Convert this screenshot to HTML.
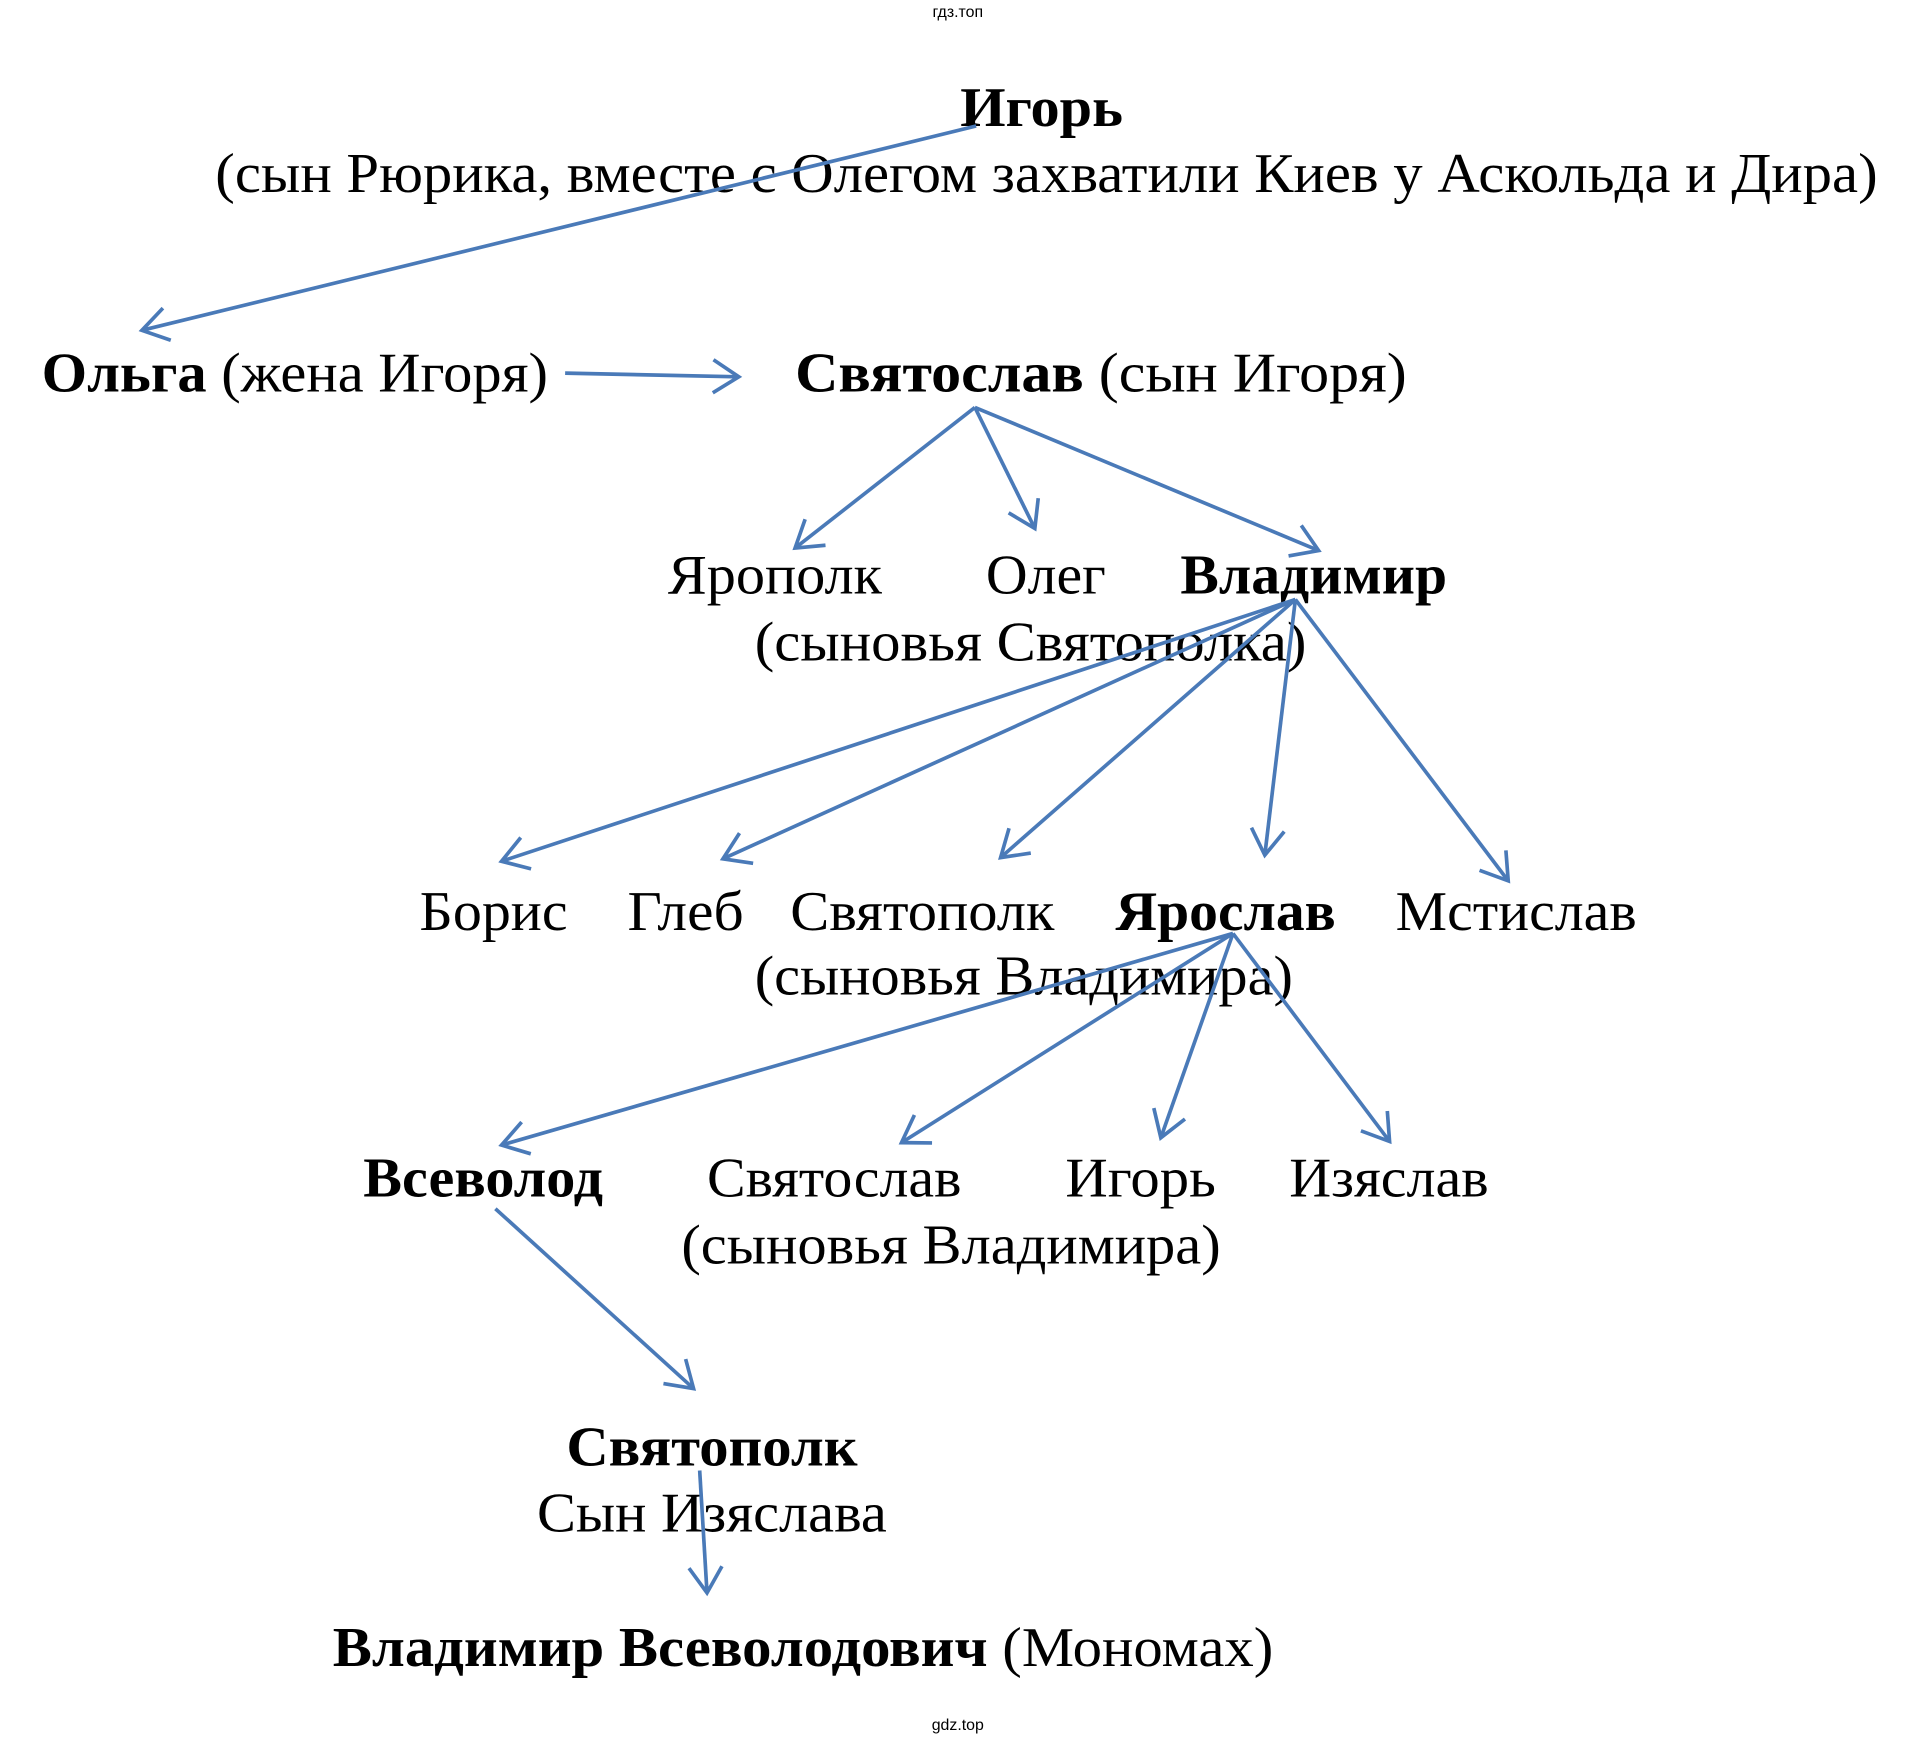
<!DOCTYPE html>
<html><head><meta charset="utf-8"><style>
html,body{margin:0;padding:0;background:#fff;}
svg{display:block;}
text{font-family:"Liberation Serif","Noto Serif CJK SC",serif;fill:#000;}
.b{font-weight:bold;}
.s{font-family:"Liberation Sans",sans-serif;}
line{stroke:#4a7ab8;stroke-width:3;marker-end:url(#a);}
</style></head><body>
<svg width="1918" height="1747" viewBox="0 0 1568 1428" preserveAspectRatio="none" xmlns="http://www.w3.org/2000/svg">
<defs><marker id="a" markerWidth="12" markerHeight="12" refX="9" refY="6" orient="auto" markerUnits="strokeWidth"><path d="M2,1.5 L9,6 L2,10.5" fill="none" stroke="#4a7ab8" stroke-width="1"/></marker></defs>
<text class="s" x="783" y="14" font-size="13" text-anchor="middle">гдз.топ</text>
<text class="b" x="785" y="103" font-size="46" textLength="133" lengthAdjust="spacingAndGlyphs">Игорь</text>
<text x="176" y="157" font-size="46" textLength="1359" lengthAdjust="spacingAndGlyphs">(сын Рюрика, вместе с Олегом захватили Киев у Аскольда и Дира)</text>
<text x="34" y="320" font-size="46" textLength="414" lengthAdjust="spacingAndGlyphs"><tspan class="b">Ольга</tspan> (жена Игоря)</text>
<text x="650" y="320" font-size="46" textLength="500" lengthAdjust="spacingAndGlyphs"><tspan class="b">Святослав</tspan> (сын  Игоря)</text>
<text x="546" y="485" font-size="46" textLength="175" lengthAdjust="spacingAndGlyphs">Ярополк</text>
<text x="806" y="485" font-size="46" textLength="98" lengthAdjust="spacingAndGlyphs">Олег</text>
<text class="b" x="965" y="485" font-size="46" textLength="218" lengthAdjust="spacingAndGlyphs">Владимир</text>
<text x="617" y="540" font-size="46" textLength="451" lengthAdjust="spacingAndGlyphs">(сыновья Святополка)</text>
<text x="343" y="760" font-size="46" textLength="121" lengthAdjust="spacingAndGlyphs">Борис</text>
<text x="513" y="760" font-size="46" textLength="95" lengthAdjust="spacingAndGlyphs">Глеб</text>
<text x="646" y="760" font-size="46" textLength="216" lengthAdjust="spacingAndGlyphs">Святополк</text>
<text class="b" x="912" y="760" font-size="46" textLength="180" lengthAdjust="spacingAndGlyphs">Ярослав</text>
<text x="1141" y="760" font-size="46" textLength="197" lengthAdjust="spacingAndGlyphs">Мстислав</text>
<text x="617" y="813" font-size="46" textLength="440" lengthAdjust="spacingAndGlyphs">(сыновья Владимира)</text>
<text class="b" x="297" y="978" font-size="46" textLength="196" lengthAdjust="spacingAndGlyphs">Всеволод</text>
<text x="578" y="978" font-size="46" textLength="208" lengthAdjust="spacingAndGlyphs">Святослав</text>
<text x="871" y="978" font-size="46" textLength="123" lengthAdjust="spacingAndGlyphs">Игорь</text>
<text x="1054" y="978" font-size="46" textLength="163" lengthAdjust="spacingAndGlyphs">Изяслав</text>
<text x="557" y="1033" font-size="46" textLength="441" lengthAdjust="spacingAndGlyphs">(сыновья Владимира)</text>
<text class="b" x="463" y="1198" font-size="46" textLength="238" lengthAdjust="spacingAndGlyphs">Святополк</text>
<text x="439" y="1252" font-size="46" textLength="286" lengthAdjust="spacingAndGlyphs">Сын Изяслава</text>
<text x="272" y="1362" font-size="46" textLength="769" lengthAdjust="spacingAndGlyphs"><tspan class="b">Владимир Всеволодович</tspan> (Мономах)</text>
<text class="s" x="783" y="1414" font-size="13" text-anchor="middle">gdz.top</text>
<line x1="798" y1="103" x2="116" y2="270"/>
<line x1="462" y1="305" x2="604" y2="308"/>
<line x1="797" y1="333" x2="650" y2="448"/>
<line x1="797" y1="333" x2="846" y2="432"/>
<line x1="797" y1="333" x2="1078" y2="450"/>
<line x1="1059" y1="490" x2="410" y2="704"/>
<line x1="1059" y1="490" x2="591" y2="702"/>
<line x1="1059" y1="490" x2="818" y2="701"/>
<line x1="1059" y1="490" x2="1034" y2="699"/>
<line x1="1059" y1="490" x2="1233" y2="720"/>
<line x1="1008" y1="763" x2="410" y2="936"/>
<line x1="1008" y1="763" x2="737" y2="934"/>
<line x1="1008" y1="763" x2="949" y2="930"/>
<line x1="1008" y1="763" x2="1136" y2="933"/>
<line x1="405" y1="988" x2="567" y2="1135"/>
<line x1="572" y1="1202" x2="578" y2="1302"/>
</svg>
</body></html>
